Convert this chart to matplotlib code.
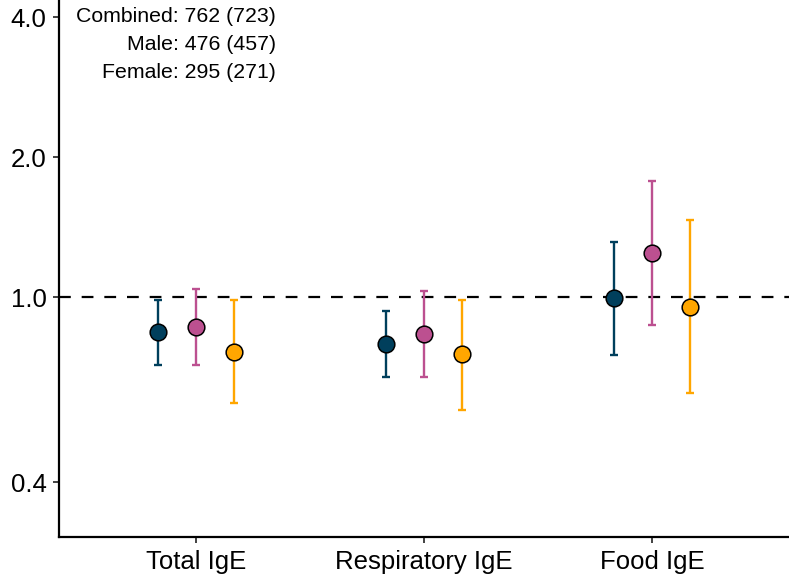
import numpy as np
import matplotlib
matplotlib.use('Agg')
import matplotlib.pyplot as plt

plt.rcParams['font.family'] = ['Liberation Sans', 'DejaVu Sans']

# Data (odds ratios with 95% CI)
outcomes = ['Total IgE', 'Respiratory IgE', 'Food IgE']
groups = ['Combined', 'Male', 'Female']
colors = ['#003f5c', '#bc5090', '#ffa600']

est = {
    'Combined': [0.841, 0.792, 0.995],
    'Male':     [0.862, 0.833, 1.243],
    'Female':   [0.762, 0.754, 0.952],
}
lower = {
    'Combined': [0.714, 0.673, 0.750],
    'Male':     [0.714, 0.673, 0.871],
    'Female':   [0.592, 0.571, 0.622],
}
upper = {
    'Combined': [0.985, 0.933, 1.313],
    'Male':     [1.040, 1.030, 1.775],
    'Female':   [0.985, 0.985, 1.464],
}
n_labels = ['Combined: 762 (723)', 'Male: 476 (457)', 'Female: 295 (271)']
yticks = [0.4, 1.0, 2.0, 4.0]

W, H = 789, 577
fig = plt.figure(figsize=(W / 100, H / 100), dpi=100)

# axes placed so that the figure shows a crop of the full panel
ymin = 2 ** (-(537 - 297) / 140)
ymax = 5.0
top_px = 297 - 140 * np.log2(ymax)
ax = fig.add_axes([59 / W, 1 - 537 / H, 730 / W, (537 - top_px) / H])
ax.set_yscale('log')
ax.set_ylim(ymin, ymax)
ax.set_xlim(0.4, 3.6)

ax.axhline(1.0, color='black', lw=1.6, ls=(0, (5.3, 4.9)), zorder=1)

x = np.arange(1, len(outcomes) + 1)
offsets = [-38 / 228, 0, 38 / 228]
for g, c, off in zip(groups, colors, offsets):
    e = np.array(est[g])
    lo = np.array(lower[g])
    hi = np.array(upper[g])
    ax.errorbar(x + off, e, yerr=[e - lo, hi - e], fmt='none', ecolor=c,
                elinewidth=1.7, capsize=3, capthick=1.7, zorder=2)
    ax.plot(x + off, e, 'o', ms=12, mfc=c, mec='black', mew=1.1, zorder=3)

ax.set_xticks(x)
ax.set_xticklabels(outcomes, fontsize=18.5)
ax.set_yticks(yticks)
ax.set_yticklabels([f'{v:.1f}' for v in yticks], fontsize=18.5)
ax.yaxis.set_minor_locator(matplotlib.ticker.NullLocator())
ax.tick_params(axis='both', length=4.5, width=1.3, color='#333333', pad=4.5)

for s in ['top', 'right']:
    ax.spines[s].set_visible(False)
for s in ['left', 'bottom']:
    ax.spines[s].set_linewidth(1.6)

# sample size annotation
for i, t in enumerate(n_labels):
    fig.text(276 / W, 1 - (17 + 27.5 * i) / H, t, ha='right', va='center', fontsize=15.3)

fig.savefig('out.png', dpi=100)
